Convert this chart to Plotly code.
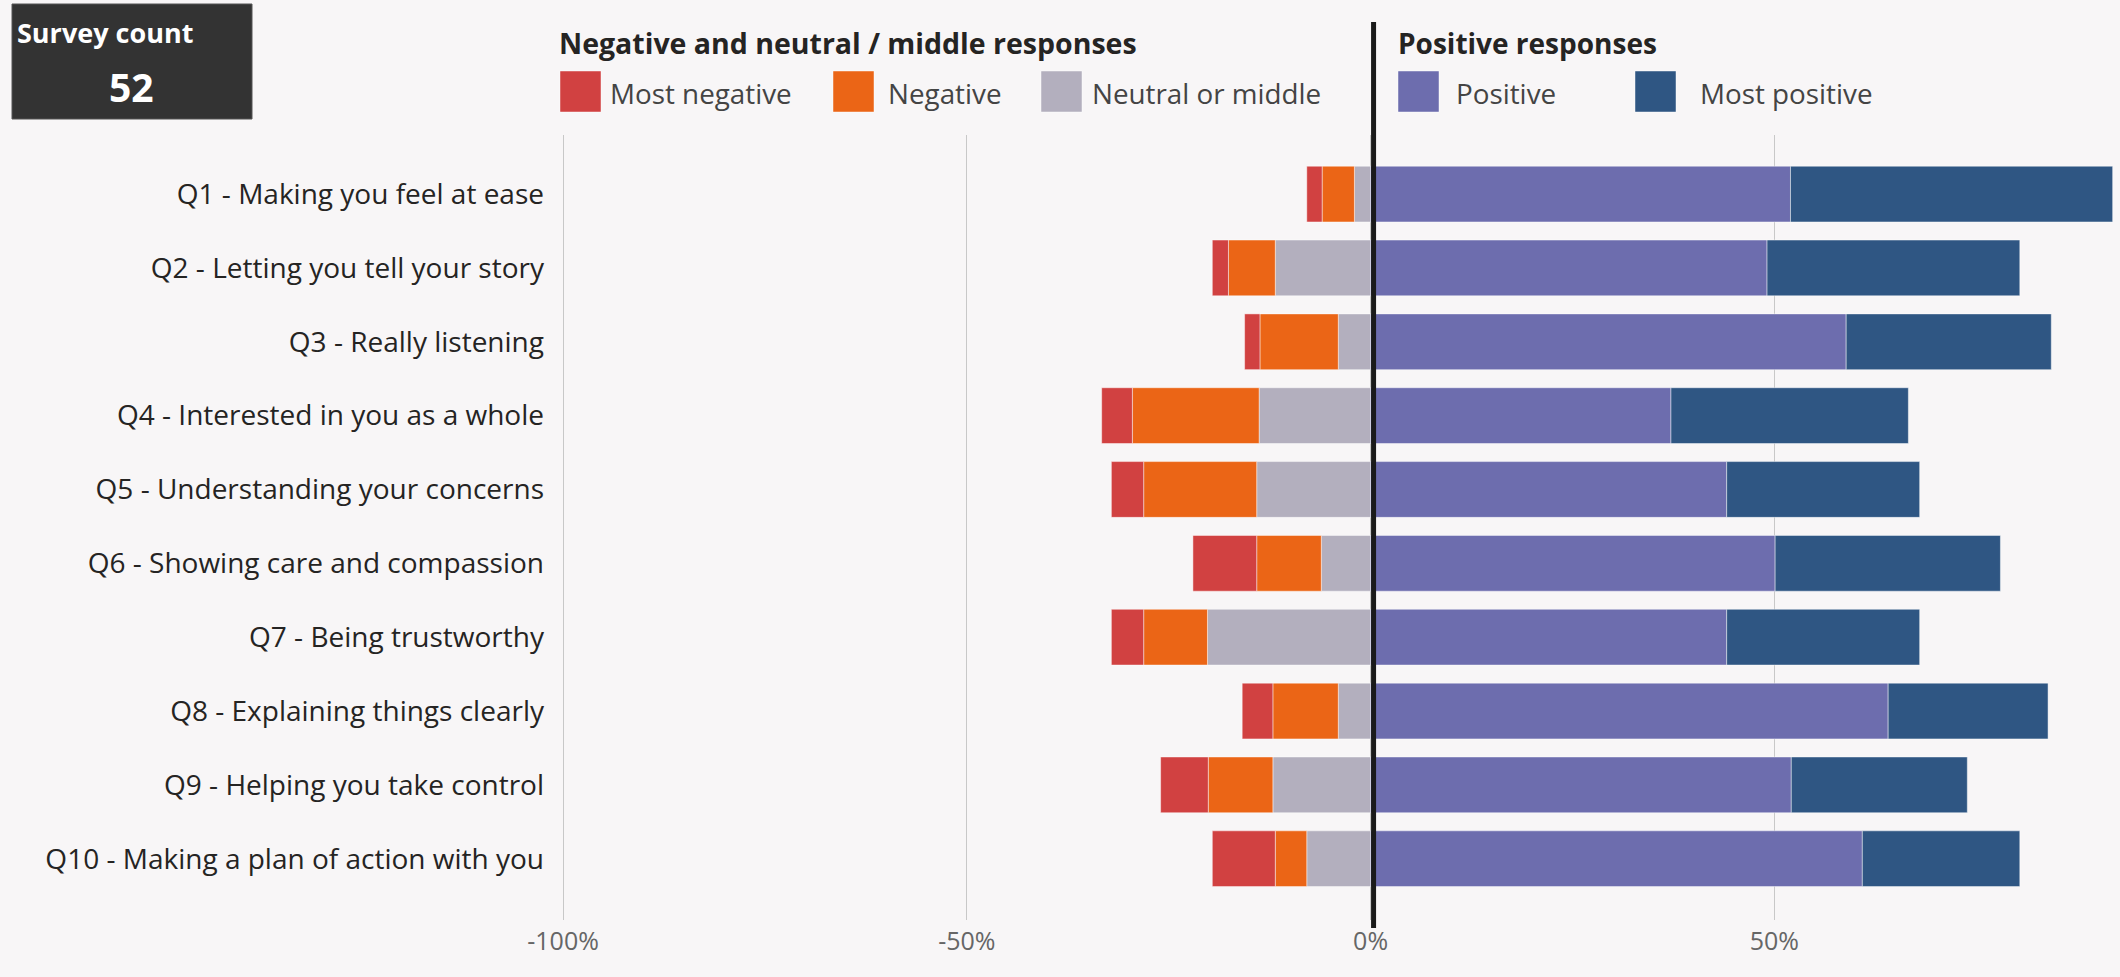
import plotly.graph_objects as go

# ---------------- data (percent of responses) ----------------
questions = [
    "Q1 - Making you feel at ease",
    "Q2 - Letting you tell your story",
    "Q3 - Really listening",
    "Q4 - Interested in you as a whole",
    "Q5 - Understanding your concerns",
    "Q6 - Showing care and compassion",
    "Q7 - Being trustworthy",
    "Q8 - Explaining things clearly",
    "Q9 - Helping you take control",
    "Q10 - Making a plan of action with you",
]
most_negative = [1.9, 2.0, 1.9, 3.8, 4.0, 7.9, 4.0, 3.8, 5.9, 7.8]
negative = [4.0, 5.8, 9.7, 15.7, 14.0, 8.0, 7.9, 8.1, 8.0, 3.9]
neutral = [2.0, 11.8, 4.0, 13.8, 14.1, 6.1, 20.2, 4.0, 12.1, 7.9]
positive = [52.0, 49.1, 58.9, 37.2, 44.1, 50.1, 44.1, 64.1, 52.1, 60.9]
most_positive = [39.9, 31.3, 25.4, 29.4, 23.9, 27.9, 23.9, 19.8, 21.8, 19.5]

tick_vals = [-100, -50, 0, 50]
tick_text = ["-100%", "-50%", "0%", "50%"]

survey_count = 52
neg_legend_title = "Negative and neutral / middle responses"
pos_legend_title = "Positive responses"

colors = {
    "Most negative": "#D14141",
    "Negative": "#EB6516",
    "Neutral or middle": "#B3AFBE",
    "Positive": "#6D6DAE",
    "Most positive": "#2F5683",
}

# ---------------- layout geometry (pixels) ----------------
W, H = 2120, 977
L, R, T, B = 555, 5, 135, 57
PW, PH = W - L - R, H - T - B
BG = "#F8F6F7"
FONT = "Segoe UI, Open Sans, sans-serif"


def px(xp):
    return (xp - L) / PW


def py(yp):
    return (H - B - yp) / PH


fig = go.Figure()

series = [
    ("Neutral or middle", [-v for v in neutral]),
    ("Negative", [-v for v in negative]),
    ("Most negative", [-v for v in most_negative]),
    ("Positive", positive),
    ("Most positive", most_positive),
]
for name, vals in series:
    fig.add_trace(go.Bar(
        y=questions, x=vals, name=name, orientation="h",
        marker=dict(color=colors[name], line=dict(color="rgba(255,255,255,0.45)", width=1)),
        width=0.755, showlegend=False,
        hovertemplate="%{y}<br>" + name + ": %{x:.1f}%<extra></extra>",
    ))

fig.update_layout(
    width=W, height=H, autosize=False,
    margin=dict(l=L, r=R, t=T, b=B, pad=0),
    paper_bgcolor=BG, plot_bgcolor=BG,
    barmode="relative", bargap=0.25,
    font=dict(family=FONT, color="#333333"),
    xaxis=dict(
        range=[-101.0, 92.19], tickvals=tick_vals, ticktext=tick_text,
        showgrid=True, gridcolor="#C8C8C8", gridwidth=1, zeroline=False,
        showline=False, ticks="", tickfont=dict(size=25, color="#666666"),
        ticklabelstandoff=4, fixedrange=True,
    ),
    yaxis=dict(
        type="category", categoryarray=questions, categoryorder="array",
        range=[9.83, -0.8], showgrid=False, zeroline=False, showline=False,
        ticks="", tickfont=dict(size=28, color="#252423"),
        ticklabelstandoff=10, fixedrange=True,
    ),
)

shapes = []
annotations = []

# zero reference line (extends up into legend area), drawn just right of zero
shapes.append(dict(type="line", xref="x", xsizemode="pixel", xanchor=0, x0=3, x1=3,
                   yref="paper", y0=py(928), y1=py(22),
                   line=dict(color="#1A1A1A", width=5), layer="above"))

# survey count card
shapes.append(dict(type="rect", xref="paper", yref="paper",
                   x0=px(12), x1=px(252), y0=py(119), y1=py(4),
                   fillcolor="#333333", line=dict(color="#555555", width=1), layer="above"))
annotations.append(dict(text="<b>Survey count</b>", xref="paper", yref="paper",
                        x=px(15), y=py(32), xanchor="left", yanchor="middle", showarrow=False,
                        font=dict(size=27, color="white", family=FONT)))
annotations.append(dict(text="<b>%d</b>" % survey_count, xref="paper", yref="paper",
                        x=px(131), y=py(86), xanchor="center", yanchor="middle", showarrow=False,
                        font=dict(size=39, color="white", family=FONT)))

# manual legend
annotations.append(dict(text="<b>%s</b>" % neg_legend_title, xref="paper", yref="paper",
                        x=px(557), y=py(43), xanchor="left", yanchor="middle", showarrow=False,
                        font=dict(size=28.5, color="#252423", family=FONT)))
annotations.append(dict(text="<b>%s</b>" % pos_legend_title, xref="paper", yref="paper",
                        x=px(1396), y=py(43), xanchor="left", yanchor="middle", showarrow=False,
                        font=dict(size=28, color="#252423", family=FONT)))

legend_items = [
    ("Most negative", 560, 608),
    ("Negative", 833, 886),
    ("Neutral or middle", 1041, 1090),
    ("Positive", 1398, 1454),
    ("Most positive", 1635, 1698),
]
for name, sx, tx in legend_items:
    shapes.append(dict(type="rect", xref="paper", yref="paper",
                       x0=px(sx), x1=px(sx + 41), y0=py(112), y1=py(71),
                       fillcolor=colors[name], line=dict(color="rgba(255,255,255,0.45)", width=1),
                       layer="above"))
    annotations.append(dict(text=name, xref="paper", yref="paper",
                            x=px(tx), y=py(93), xanchor="left", yanchor="middle", showarrow=False,
                            font=dict(size=27.8, color="#444444", family=FONT)))

fig.update_layout(shapes=shapes, annotations=annotations)

fig.write_html("out.html", include_plotlyjs=True, config={"displayModeBar": False})
